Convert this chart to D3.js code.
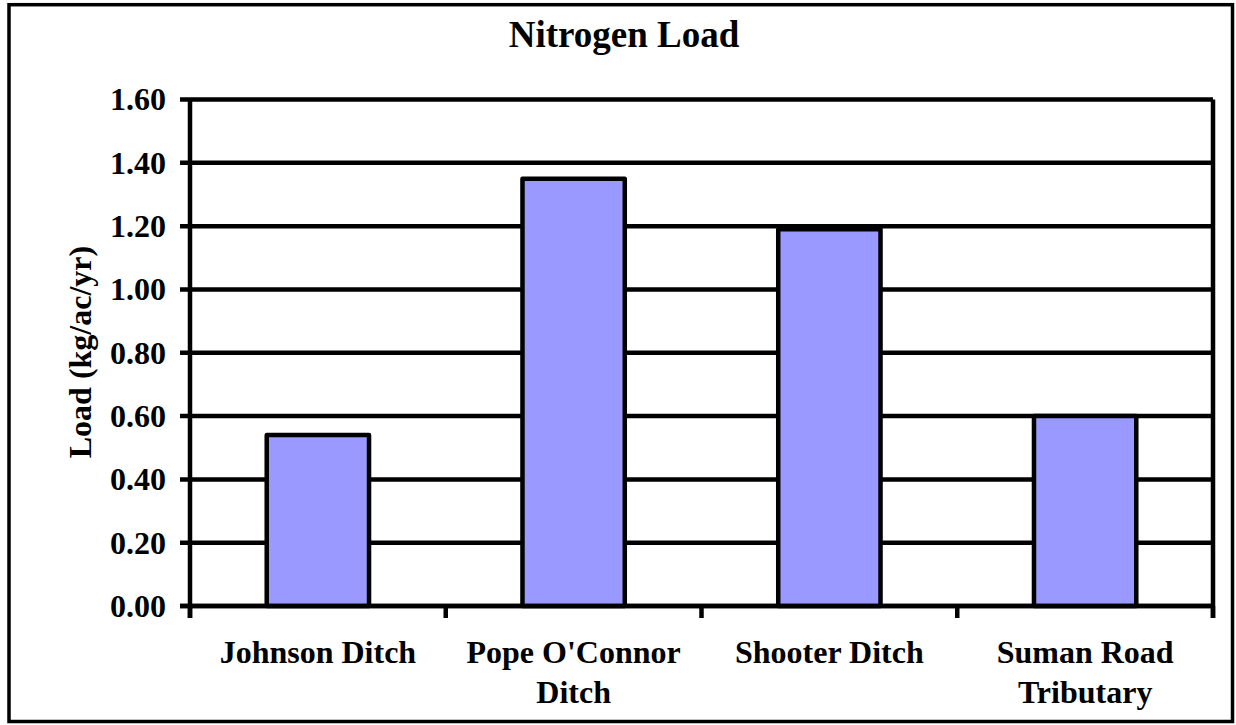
<!DOCTYPE html>
<html>
<head>
<meta charset="utf-8">
<script src="https://cdn.jsdelivr.net/npm/d3@7"></script>
<style>
  html, body { margin: 0; padding: 0; background: #fff; }
  svg text { font-family: "Times New Roman", "Liberation Serif", Times, serif; font-weight: bold; fill: #000; }
</style>
</head>
<body>
<svg id="chart" width="1236" height="725"></svg>
<script>
// Nitrogen load per site (kg/ac/yr)
const sites = ["Johnson Ditch", "Pope O'Connor Ditch", "Shooter Ditch", "Suman Road Tributary"];
const loads = [0.54, 1.35, 1.19, 0.60];
const yTicks = [0, 0.2, 0.4, 0.6, 0.8, 1.0, 1.2, 1.4, 1.6];
const chartTitle = "Nitrogen Load";
const yTitle = "Load (kg/ac/yr)";

const plot = { left: 190, right: 1213, top: 99.5, bottom: 606 };
const lineW = 4.5;

const svg = d3.select("#chart");

// outer frame
svg.append("rect")
  .attr("x", 9).attr("y", 4.7)
  .attr("width", 1232.5 - 9).attr("height", 721.5 - 4.7)
  .attr("fill", "#fff").attr("stroke", "#000").attr("stroke-width", 3.5);

// scales
const slot = d3.scaleBand().domain(sites).range([plot.left, plot.right]).padding(0);
const x = d3.scaleBand().domain(sites).range([plot.left, plot.right])
  .paddingInner(0.6).paddingOuter(0.3);
const y = d3.scaleLinear().domain([0, 1.6]).range([plot.bottom, plot.top]);

// horizontal gridlines with outside ticks
svg.append("g")
  .selectAll("line")
  .data(yTicks)
  .join("line")
  .attr("x1", plot.left - 10).attr("x2", plot.right)
  .attr("y1", d => y(d)).attr("y2", d => y(d))
  .attr("stroke", "#000").attr("stroke-width", lineW);

// y tick labels
svg.append("g")
  .selectAll("text")
  .data(yTicks)
  .join("text")
  .attr("x", plot.left - 24)
  .attr("y", d => y(d))
  .attr("dy", "0.34em")
  .attr("text-anchor", "end")
  .style("font-size", "32px")
  .text(d3.format(".2f"));

// bars
svg.append("g")
  .selectAll("rect")
  .data(sites)
  .join("rect")
  .attr("x", d => x(d))
  .attr("width", x.bandwidth())
  .attr("y", (d, i) => y(loads[i]))
  .attr("height", (d, i) => y(0) - y(loads[i]))
  .attr("fill", "#9999FF")
  .attr("stroke", "#000")
  .attr("stroke-width", lineW)
  .attr("stroke-linejoin", "round");

// left and right vertical borders of the plot (extend down as category ticks)
const bounds = sites.map(s => slot(s)).concat([plot.right]);
svg.append("g")
  .selectAll("line")
  .data([plot.left, plot.right])
  .join("line")
  .attr("x1", d => d).attr("x2", d => d)
  .attr("y1", plot.top).attr("y2", plot.bottom + 12)
  .attr("stroke", "#000").attr("stroke-width", lineW);

// category boundary ticks
svg.append("g")
  .selectAll("line")
  .data(bounds)
  .join("line")
  .attr("x1", d => d).attr("x2", d => d)
  .attr("y1", plot.bottom).attr("y2", plot.bottom + 12)
  .attr("stroke", "#000").attr("stroke-width", lineW);

// x axis baseline
svg.append("line")
  .attr("x1", plot.left - 10).attr("x2", plot.right)
  .attr("y1", y(0)).attr("y2", y(0))
  .attr("stroke", "#000").attr("stroke-width", lineW);

// category labels, wrapped to the slot width
const catLabels = svg.append("g")
  .selectAll("text")
  .data(sites)
  .join("text")
  .attr("text-anchor", "middle")
  .style("font-size", "32px")
  .attr("transform", d => `translate(${slot(d) + slot.bandwidth() / 2},663)`);

catLabels.each(function(d) {
  const t = d3.select(this);
  const words = d.split(" ");
  const maxW = slot.bandwidth() - 20;
  const lines = [];
  let cur = [];
  const probe = t.append("tspan");
  words.forEach(w => {
    probe.text(cur.concat([w]).join(" "));
    if (probe.node().getComputedTextLength() > maxW && cur.length) {
      lines.push(cur.join(" "));
      cur = [w];
    } else {
      cur.push(w);
    }
  });
  lines.push(cur.join(" "));
  probe.remove();
  lines.forEach((ln, i) => {
    t.append("tspan").attr("x", 0).attr("y", i * 40).text(ln);
  });
});

// title
svg.append("text")
  .attr("x", 624).attr("y", 47)
  .attr("text-anchor", "middle")
  .style("font-size", "37px")
  .text(chartTitle);

// y axis title
svg.append("text")
  .attr("transform", "translate(91,352) rotate(-90)")
  .attr("text-anchor", "middle")
  .style("font-size", "32px")
  .text(yTitle);
</script>
</body>
</html>
